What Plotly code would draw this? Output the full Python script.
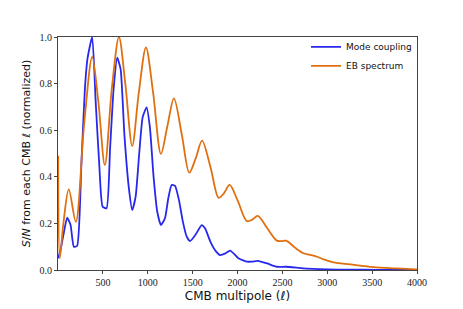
import plotly.graph_objects as go

# Mode coupling S/N (normalized)
ell_mc = [2, 30, 60, 102, 140, 176, 213, 260, 300, 329, 381, 420, 460, 497, 541, 580, 620, 660, 698, 740, 790, 827, 865, 905, 943, 987, 1024, 1065, 1106, 1147, 1192, 1230, 1266, 1303, 1348, 1390, 1434, 1471, 1530, 1601, 1638, 1700, 1760, 1806, 1860, 1917, 1970, 2010, 2103, 2165, 2226, 2330, 2438, 2542, 2735, 2900, 3100, 3400, 3700, 4000]
sn_mc = [0.05, 0.09, 0.15, 0.225, 0.193, 0.10, 0.103, 0.45, 0.78, 0.908, 1.0, 0.72, 0.45, 0.272, 0.265, 0.52, 0.78, 0.911, 0.861, 0.58, 0.35, 0.257, 0.315, 0.50, 0.655, 0.698, 0.612, 0.40, 0.25, 0.193, 0.222, 0.31, 0.365, 0.362, 0.30, 0.21, 0.143, 0.124, 0.15, 0.193, 0.179, 0.12, 0.08, 0.064, 0.07, 0.083, 0.066, 0.05, 0.036, 0.036, 0.039, 0.028, 0.014, 0.014, 0.007, 0.004, 0.002, 0.001, 0.0005, 0.0002]

# EB spectrum S/N (normalized)
ell_eb = [2, 20, 60, 120, 199, 290, 381, 450, 522, 600, 679, 750, 827, 900, 980, 1060, 1147, 1220, 1292, 1380, 1463, 1535, 1605, 1700, 1790, 1850, 1912, 2000, 2103, 2160, 2226, 2330, 2438, 2490, 2542, 2640, 2735, 2800, 2866, 2960, 3070, 3256, 3516, 3760, 4000]
sn_eb = [0.49, 0.05, 0.20, 0.346, 0.207, 0.62, 0.915, 0.72, 0.45, 0.78, 1.0, 0.80, 0.532, 0.76, 0.955, 0.76, 0.498, 0.62, 0.737, 0.58, 0.418, 0.48, 0.555, 0.44, 0.31, 0.33, 0.365, 0.30, 0.21, 0.215, 0.232, 0.18, 0.126, 0.124, 0.126, 0.096, 0.072, 0.066, 0.06, 0.046, 0.033, 0.024, 0.012, 0.007, 0.003]

blue = "#2828ec"
orange = "#e0700f"

fig = go.Figure()
fig.add_trace(go.Scatter(x=ell_mc, y=sn_mc, mode="lines", name="Mode coupling",
                         line=dict(color=blue, width=1.8, shape="spline", smoothing=0.5)))
fig.add_trace(go.Scatter(x=ell_eb, y=sn_eb, mode="lines", name="EB spectrum",
                         line=dict(color=orange, width=1.8, shape="spline", smoothing=0.9)))

axis_common = dict(showgrid=False, zeroline=False, showline=True, linecolor="#444", linewidth=1,
                   mirror=True, ticks="outside", ticklen=3, tickcolor="#444",
                   tickfont=dict(family="Liberation Serif", size=10, color="#222"))

fig.update_xaxes(range=[0, 4000], tickvals=[500, 1000, 1500, 2000, 2500, 3000, 3500, 4000],
                 title=dict(text="CMB multipole (<i>ℓ</i>)", font=dict(family="DejaVu Sans", size=12, color="#111"), standoff=4),
                 **axis_common)
fig.update_yaxes(range=[0, 1.0], tickvals=[0, 0.2, 0.4, 0.6, 0.8, 1.0], tickformat=".1f",
                 title=dict(text="<i>S</i>/<i>N</i> from each CMB <i>ℓ</i> (normalized)", font=dict(family="DejaVu Sans", size=11, color="#111"), standoff=6),
                 **axis_common)

fig.update_layout(width=463, height=309, margin=dict(l=50, r=54, t=29, b=47),
                  paper_bgcolor="white", plot_bgcolor="white", showlegend=True,
                  legend=dict(x=1.0, y=1.02, xanchor="right", yanchor="top", bgcolor="rgba(0,0,0,0)",
                              font=dict(family="DejaVu Sans", size=9, color="#111"), tracegroupgap=0))

fig.write_html("out.html")
